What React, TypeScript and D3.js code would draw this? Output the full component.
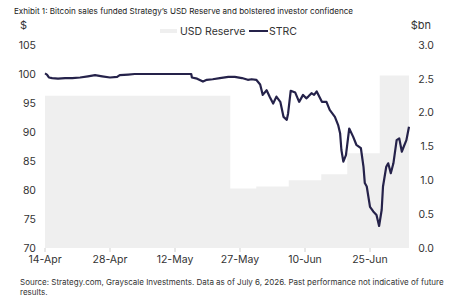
import { useEffect, useRef } from 'react'
import * as d3 from 'd3'

// trading days shown on the category axis
const tradingDays = [
  '14-Apr', '15-Apr', '16-Apr', '17-Apr', '20-Apr', '21-Apr', '22-Apr', '23-Apr', '24-Apr', '27-Apr',
  '28-Apr', '29-Apr', '30-Apr', '1-May', '4-May', '5-May', '6-May', '7-May', '8-May', '11-May',
  '12-May', '13-May', '14-May', '15-May', '18-May', '19-May', '20-May', '21-May', '22-May', '26-May',
  '27-May', '28-May', '29-May', '1-Jun', '2-Jun', '3-Jun', '4-Jun', '5-Jun', '8-Jun', '9-Jun',
  '10-Jun', '11-Jun', '12-Jun', '15-Jun', '16-Jun', '17-Jun', '18-Jun', '22-Jun', '23-Jun', '24-Jun',
  '25-Jun', '26-Jun', '29-Jun', '30-Jun', '1-Jul', '2-Jul', '6-Jul',
]
const tickLabels = ['14-Apr', '28-Apr', '12-May', '27-May', '10-Jun', '25-Jun']

// USD Reserve, $bn (right axis), one value per trading day
const usdReserve = [
  2.25, 2.25, 2.25, 2.25, 2.25, 2.25, 2.25, 2.25, 2.25, 2.25,
  2.25, 2.25, 2.25, 2.25, 2.25, 2.25, 2.25, 2.25, 2.25, 2.25,
  2.25, 2.25, 2.25, 2.25, 2.25, 2.25, 2.25, 2.25, 2.25, 0.88,
  0.88, 0.88, 0.88, 0.91, 0.91, 0.91, 0.91, 0.91, 1.0, 1.0,
  1.0, 1.0, 1.0, 1.09, 1.09, 1.09, 1.09, 1.4, 1.4, 1.4,
  1.4, 1.4, 2.55, 2.55, 2.55, 2.55, 2.55,
]

// STRC price, $ (left axis), intraday positions in trading days
const strcDay = [
  0, 0.3, 0.6, 1.1, 2.0, 3.1, 4.2, 5.4, 6.6, 7.7,
  8.8, 10.0, 11.1, 11.5, 12.8, 13.8, 16.2, 19.2, 22.5, 22.6,
  23.4, 24.3, 24.9, 25.8, 26.9, 28.2, 29.2, 30.3, 31.2, 31.8,
  32.5, 33.1, 33.5, 34.1, 34.6, 35.1, 35.6, 36.2, 36.7, 37.2,
  37.4, 37.8, 38.5, 39.1, 39.7, 40.2, 40.5, 41.0, 41.4, 41.8,
  42.6, 43.3, 43.8, 44.6, 45.1, 45.4, 45.6, 45.9, 46.3, 46.8,
  47.4, 47.9, 48.6, 49.0, 49.2, 49.5, 50.0, 50.5, 51.0, 51.4,
  51.8, 52.0, 52.5, 52.8, 53.2, 53.6, 54.1, 54.5, 54.9, 55.2,
  55.6, 56.0,
]
const strcPrice = [
  100.1, 99.9, 99.4, 99.3, 99.2, 99.3, 99.3, 99.4, 99.6, 99.8,
  99.6, 99.4, 99.5, 99.8, 99.9, 100.0, 100.0, 100.0, 100.0, 99.4,
  99.2, 98.7, 99.0, 99.1, 99.3, 99.5, 99.5, 99.3, 99.0, 99.1,
  99.0, 98.2, 96.4, 97.2, 96.0, 94.9, 96.1, 95.2, 92.6, 92.1,
  93.2, 97.1, 96.8, 95.2, 96.4, 95.8, 96.1, 96.7, 96.4, 97.0,
  95.2, 95.2, 93.8, 92.6, 91.2, 89.8, 86.9, 84.9, 86.0, 90.6,
  89.2, 87.8, 87.2, 84.0, 81.2, 80.6, 77.1, 76.3, 75.7, 73.8,
  76.6, 80.6, 84.0, 84.6, 82.9, 84.6, 88.6, 88.9, 86.6, 87.5,
  88.6, 90.9,
]

const leftTicks = [70, 75, 80, 85, 90, 95, 100, 105]
const rightTicks = [0, 0.5, 1.0, 1.5, 2.0, 2.5, 3.0]

const FONT = 'Inter, "Noto Sans", sans-serif'
const TEXT = '#333'
const LINE = '#25224a'
const FILL = '#efefef'

function App() {
  const ref = useRef<SVGSVGElement | null>(null)

  useEffect(() => {
    if (!ref.current) return
    const svg = d3.select(ref.current)
    svg.selectAll('*').remove()

    const left = 45, right = 409, top = 45, bottom = 248

    const x = d3.scaleLinear().domain([0, tradingDays.length - 1]).range([left, right])
    const yL = d3.scaleLinear().domain([70, 105]).range([bottom, top])
    const yR = d3.scaleLinear().domain([0, 3]).range([bottom, top])

    // title
    svg.append('text')
      .attr('x', 14).attr('y', 14)
      .attr('font-size', 8.1).attr('fill', '#222')
      .text('Exhibit 1: Bitcoin sales funded Strategy\u2019s USD Reserve and bolstered investor confidence')

    // axis units
    svg.append('text').attr('x', 20).attr('y', 29).attr('font-size', 11).attr('fill', TEXT).text('$')
    svg.append('text').attr('x', 431).attr('y', 29).attr('text-anchor', 'end')
      .attr('font-size', 11).attr('fill', TEXT).text('$bn')

    // legend
    const lg = svg.append('g')
    lg.append('rect').attr('x', 160).attr('y', 29).attr('width', 17).attr('height', 4).attr('fill', FILL)
    lg.append('text').attr('x', 180).attr('y', 35).attr('font-size', 10.5).attr('fill', TEXT).text('USD Reserve')
    lg.append('line').attr('x1', 249).attr('x2', 268).attr('y1', 31).attr('y2', 31)
      .attr('stroke', LINE).attr('stroke-width', 2)
    lg.append('text').attr('x', 269).attr('y', 35).attr('font-size', 10.5).attr('fill', TEXT).text('STRC')

    // USD Reserve area
    const area = d3.area<number>()
      .x((_, i) => x(i))
      .y0(yR(0))
      .y1(d => yR(d))
      .curve(d3.curveStep)
    svg.append('path').datum(usdReserve).attr('d', area).attr('fill', FILL)

    // x ticks
    const xt = svg.append('g')
    tickLabels.forEach(lbl => {
      const i = tradingDays.indexOf(lbl)
      xt.append('line').attr('x1', x(i)).attr('x2', x(i)).attr('y1', bottom).attr('y2', bottom + 4)
        .attr('stroke', '#d0d0d0')
      xt.append('text').attr('x', x(i)).attr('y', bottom + 15).attr('text-anchor', 'middle')
        .attr('font-size', 10.5).attr('fill', TEXT).text(lbl)
    })

    // left axis labels
    svg.append('g').selectAll('text').data(leftTicks).enter().append('text')
      .attr('x', 36).attr('y', d => yL(d)).attr('dy', '0.35em').attr('text-anchor', 'end')
      .attr('font-size', 10.5).attr('fill', TEXT).text(d => d)

    // right axis labels
    svg.append('g').selectAll('text').data(rightTicks).enter().append('text')
      .attr('x', 434).attr('y', d => yR(d)).attr('dy', '0.35em').attr('text-anchor', 'end')
      .attr('font-size', 10.5).attr('fill', TEXT).text(d => d3.format('.1f')(d))

    // STRC line
    const line = d3.line<number>()
      .x((_, i) => x(strcDay[i]))
      .y(d => yL(d))
    svg.append('path').datum(strcPrice).attr('d', line)
      .attr('fill', 'none').attr('stroke', LINE).attr('stroke-width', 2.2).attr('stroke-linejoin', 'round')

    // source
    svg.append('text').attr('x', 20).attr('y', 285).attr('font-size', 8).attr('fill', TEXT)
      .text('Source: Strategy.com, Grayscale Investments. Data as of July 6, 2026. Past performance not indicative of future')
    svg.append('text').attr('x', 20).attr('y', 295).attr('font-size', 8).attr('fill', TEXT)
      .text('results.')
  }, [])

  return (
    <div style={{ position: 'fixed', left: 0, top: 0, width: 452, height: 300, background: '#fff' }}>
      <svg ref={ref} width={452} height={300} style={{ fontFamily: FONT, display: 'block' }} />
    </div>
  )
}

export default App
